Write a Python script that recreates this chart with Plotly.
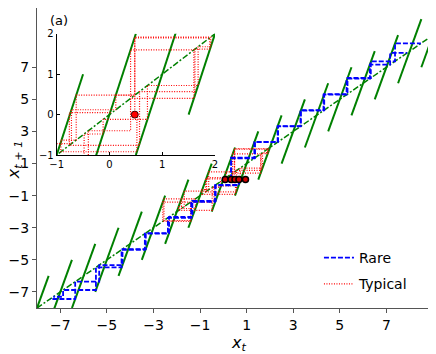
import plotly.graph_objects as go

# lifted map x_{t+1} = f(x_t): one linear branch per integer n (slope 4)
map_lo = [-8.5, -7.5, -6.5, -5.5, -4.5, -3.5, -2.5, -1.5, -0.5, 0.5, 1.5, 2.5, 3.5, 4.5, 5.5, 6.5, 7.5, 8.5]
map_hi = [-7.5, -6.5, -5.5, -4.5, -3.5, -2.5, -1.5, -0.5, 0.5, 1.5, 2.5, 3.5, 4.5, 5.5, 6.5, 7.5, 8.5, 9.5]
map_ylo = [-10, -9, -8, -7, -6, -5, -4, -3, -2, -1, 0, 1, 2, 3, 4, 5, 6, 7]
map_yhi = [-6, -5, -4, -3, -2, -1, 0, 1, 2, 3, 4, 5, 6, 7, 8, 9, 10, 11]

diag = [-8, 9]

# rare trajectories (ballistic)
rare_up_a = [0.33, 1.33, 2.33, 3.33, 4.33, 5.33, 6.33, 7.37, 8.48]
rare_up_b = [0.34, 1.36, 2.35, 3.31, 4.30, 5.29, 6.29, 7.16, 7.89]
rare_dn_a = [0.67, -0.33, -1.33, -2.33, -3.33, -4.33, -5.33, -6.36, -7.44]
rare_dn_b = [0.66, -0.36, -1.38, -2.38, -3.37, -4.37, -5.47, -6.88, -7.30]

# typical trajectories (stay near the origin)
typ_a = [0.48, 1.90, 1.62, 0.57, -0.76, 0.05]
typ_b = [0.52, -0.92, -0.63, 0.48, 1.92, 1.68, 0.72, -0.12, -0.48, -1.92, -1.68, -0.72, 0.12, 0.48]
typ_c = [0.40, 1.60, 0.40, -0.40, -1.40, -2.60, -1.40, -2.55, -1.20, -1.80, -1.20]

x0_pts = [0.08, 0.33, 0.50, 0.67, 0.95]

ticks = [-7, -5, -3, -1, 1, 3, 5, 7]
inset_ticks = [-1, 0, 1, 2]


def cobweb(orbit):
    xs, ys = [orbit[0]], [0]
    for a, b in zip(orbit[:-1], orbit[1:]):
        xs += [a, b]
        ys += [b, b]
    return xs, ys


seg_x, seg_y = [], []
for a, b, c, d in zip(map_lo, map_hi, map_ylo, map_yhi):
    seg_x += [a, b, None]
    seg_y += [c, d, None]

GREEN = "#008000"
RED_DOT = dict(color="red", width=1.2, dash="1px,1.5px")
fig = go.Figure()

for xa, ya in [("x", "y"), ("x2", "y2")]:
    fig.add_trace(go.Scatter(x=seg_x, y=seg_y, mode="lines", xaxis=xa, yaxis=ya,
                             line=dict(color=GREEN, width=2), showlegend=False))
    fig.add_trace(go.Scatter(x=diag, y=diag, mode="lines", xaxis=xa, yaxis=ya,
                             line=dict(color=GREEN, width=1.5, dash="6px,2px,2px,2px"),
                             showlegend=False))

for i, orb in enumerate([typ_a, typ_b, typ_c]):
    xs, ys = cobweb(orb)
    fig.add_trace(go.Scatter(x=xs, y=ys, mode="lines", name="Typical", line=RED_DOT,
                             legendgroup="typ", showlegend=(i == 0), legendrank=2))
    fig.add_trace(go.Scatter(x=xs, y=ys, mode="lines", xaxis="x2", yaxis="y2",
                             line=RED_DOT, showlegend=False))

for i, orb in enumerate([rare_up_a, rare_up_b, rare_dn_a, rare_dn_b]):
    xs, ys = cobweb(orb)
    fig.add_trace(go.Scatter(x=xs, y=ys, mode="lines", name="Rare",
                             line=dict(color="blue", width=1.8, dash="5px,2px"),
                             legendgroup="rare", showlegend=(i == 0), legendrank=1))

fig.add_trace(go.Scatter(x=x0_pts, y=[0] * len(x0_pts), mode="markers", showlegend=False,
                         marker=dict(color="#d00000", size=6, line=dict(color="black", width=1.5))))
fig.add_trace(go.Scatter(x=[0.48], y=[0], mode="markers", xaxis="x2", yaxis="y2", showlegend=False,
                         marker=dict(color="red", size=7, line=dict(color="#400000", width=1))))

axis_main = dict(showgrid=False, zeroline=False, showline=True, linecolor="#555", linewidth=1,
                 ticks="outside", ticklen=4, tickcolor="#555", tickvals=ticks, automargin=False,
                 tickfont=dict(size=14, color="black"))
axis_in = dict(showgrid=False, zeroline=False, showline=True, linecolor="black", linewidth=1,
               ticks="inside", ticklen=3, tickcolor="black", tickvals=inset_ticks, range=[-1, 2],
               automargin=False, tickfont=dict(size=10, color="black"))

# page has an 8px body margin, so the figure is sized to fit the window
fig.update_layout(
    width=428, height=346,
    margin=dict(l=29, r=3, t=0, b=46),
    paper_bgcolor="white", plot_bgcolor="white",
    font=dict(family="DejaVu Sans", color="black"),
    xaxis=dict(axis_main, range=[-8, 9]),
    yaxis=dict(axis_main, range=[-8, 10.69]),
    xaxis2=dict(axis_in, domain=[0.0497, 0.4495], anchor="y2"),
    yaxis2=dict(axis_in, domain=[0.51, 0.914], anchor="x2"),
    legend=dict(x=0.712, y=0.22, xanchor="left", yanchor="top", font=dict(size=14),
                bgcolor="rgba(0,0,0,0)", itemwidth=30, tracegroupgap=5),
    annotations=[
        dict(text="<i>x<sub>t</sub></i>", x=0.508, y=-0.117, xref="paper", yref="paper",
             showarrow=False, font=dict(size=16), yanchor="middle"),
        dict(text="<i>x<sub>t + 1</sub></i>", x=-0.058, y=0.493, xref="paper", yref="paper",
             showarrow=False, font=dict(size=16), textangle=-90, xanchor="center"),
        dict(text="(a)", x=0.028, y=0.96, xref="paper", yref="paper",
             showarrow=False, font=dict(size=13), xanchor="left", yanchor="middle"),
    ],
)

fig.write_html("out.html")
